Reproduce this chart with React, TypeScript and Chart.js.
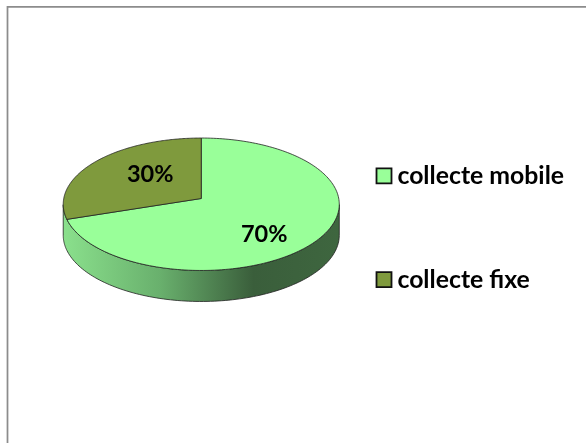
import React, { useEffect, useRef } from "react";
import { Chart, registerables } from "chart.js";

Chart.register(...registerables);

const categories = ["collecte mobile", "collecte fixe"];
const shares = [70, 30];
const shareLabels = ["70%", "30%"];
const sliceColors = ["#99ff99", "#7f9a3d"];

const FONT = '"Lato", "Open Sans", sans-serif';
const legendFont = { family: FONT, weight: "bold" as const, size: 24.8 };
const LEGEND_PADDING = 79;

// Perspective of the tilted disc
const TILT = 0.478;
const K = -0.0868;
const DEPTH = 31;

function project(arc: any, angle: number, frac = 1, dy = 0) {
  const u = Math.cos(angle) * frac;
  const v = Math.sin(angle) * frac;
  const d = 1 + K * v;
  return {
    x: arc.x + (arc.outerRadius * u) / d,
    y: arc.y + (arc.outerRadius * TILT * v) / d + dy,
    v: Math.sin(angle),
  };
}

function arcPoints(arc: any) {
  const pts: any[] = [];
  const n = 180;
  for (let i = 0; i <= n; i++) {
    pts.push(project(arc, arc.startAngle + ((arc.endAngle - arc.startAngle) * i) / n));
  }
  return pts;
}

const pie3d = {
  id: "pie3d",
  afterLayout(chart: any) {
    const l = chart.legend;
    const h = l.height;
    l.left = 376 - LEGEND_PADDING;
    l.right = chart.width;
    l.width = l.right - l.left;
    l.top = 163.5 - LEGEND_PADDING;
    l.bottom = l.top + h;
  },
  beforeDraw(chart: any) {
    const { ctx, width, height } = chart;
    ctx.save();
    ctx.strokeStyle = "#8c8c8c";
    ctx.lineWidth = 1.75;
    ctx.beginPath();
    ctx.moveTo(7.5, height + 2);
    ctx.lineTo(7.5, 6.9);
    ctx.lineTo(width + 2, 6.9);
    ctx.stroke();
    ctx.restore();
  },
  beforeDatasetsDraw(chart: any) {
    const { ctx } = chart;
    const arcs = chart.getDatasetMeta(0).data;
    ctx.save();
    ctx.lineJoin = "round";

    // side wall, front part of the whole rim
    const first = arcs[0];
    const rim = arcs.flatMap((arc: any) => arcPoints(arc)).filter((p: any) => p.v >= 0.087);
    ctx.beginPath();
    rim.forEach((p: any, i: number) => (i ? ctx.lineTo(p.x, p.y) : ctx.moveTo(p.x, p.y)));
    [...rim].reverse().forEach((p: any) => ctx.lineTo(p.x, p.y + DEPTH));
    ctx.closePath();
    const g = ctx.createLinearGradient(first.x - first.outerRadius, 0, first.x + first.outerRadius, 0);
    g.addColorStop(0, "#8ae08c");
    g.addColorStop(0.35, "#69b06d");
    g.addColorStop(0.69, "#3a5e3b");
    g.addColorStop(1, "#3e663f");
    ctx.fillStyle = g;
    ctx.fill();
    ctx.strokeStyle = "#222";
    ctx.lineWidth = 0.8;
    ctx.stroke();

    // top faces
    arcs.forEach((arc: any, idx: number) => {
      const pts = arcPoints(arc);
      const c = project(arc, 0, 0);
      ctx.beginPath();
      ctx.moveTo(c.x, c.y);
      pts.forEach((p) => ctx.lineTo(p.x, p.y));
      ctx.closePath();
      ctx.fillStyle = sliceColors[idx];
      ctx.fill();
      ctx.strokeStyle = "#222";
      ctx.lineWidth = 0.8;
      ctx.stroke();
    });

    // share labels
    ctx.font = `bold 23.5px ${FONT}`;
    ctx.fillStyle = "#000";
    ctx.textAlign = "center";
    ctx.textBaseline = "middle";
    const labelOffsets = [14, -6.5];
    arcs.forEach((arc: any, i: number) => {
      const mid = (arc.startAngle + arc.endAngle) / 2;
      const p = project(arc, mid, i === 0 ? 0.55 : 0.47, labelOffsets[i]);
      ctx.fillText(shareLabels[i], p.x, p.y);
    });
    ctx.restore();
    return false;
  },
  afterDraw(chart: any) {
    const { ctx } = chart;
    const boxes = chart.legend.legendHitBoxes;
    ctx.save();
    boxes.forEach((b: any, i: number) => {
      const cy = b.top + b.height / 2;
      ctx.fillStyle = sliceColors[i];
      ctx.strokeStyle = "#111";
      ctx.lineWidth = 1.8;
      ctx.beginPath();
      ctx.rect(b.left + 0.5, cy - 7.5, 15, 15);
      ctx.fill();
      ctx.stroke();
    });
    ctx.restore();
  },
};

export default function App() {
  const ref = useRef<HTMLCanvasElement>(null);
  useEffect(() => {
    document.documentElement.style.overflow = "hidden";
    const chart = new Chart(ref.current!, {
      type: "pie",
      data: {
        labels: categories,
        datasets: [{ data: shares, backgroundColor: sliceColors, borderWidth: 0, radius: 137.5 } as any],
      },
      options: {
        animation: false,
        responsive: false,
        layout: { padding: { left: 73, top: 0, bottom: 46, right: 0 } },
        plugins: {
          tooltip: { enabled: false },
          legend: {
            position: "right",
            align: "start",
            labels: {
              boxWidth: 9,
              boxHeight: 15,
              padding: LEGEND_PADDING,
              color: "#000",
              font: legendFont,
              generateLabels: (c: any) =>
                c.data.labels.map((text: string, index: number) => ({
                  text,
                  index,
                  fillStyle: "rgba(0,0,0,0)",
                  strokeStyle: "rgba(0,0,0,0)",
                  lineWidth: 0,
                  fontColor: "#000",
                })),
            },
          },
        },
      } as any,
      plugins: [pie3d as any],
    });
    return () => chart.destroy();
  }, []);
  return (
    <canvas
      ref={ref}
      width={586}
      height={443}
      style={{ position: "fixed", left: 0, top: 0, display: "block" }}
    />
  );
}
